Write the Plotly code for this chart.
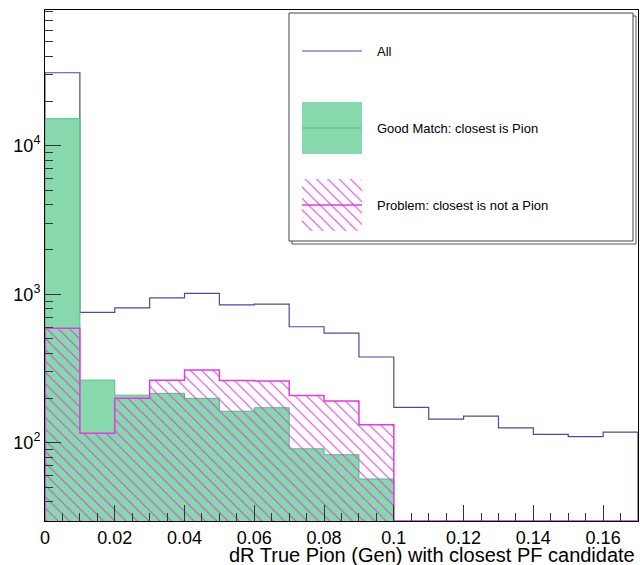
import numpy as np
import plotly.graph_objects as go

# Histogram binning: 17 bins of width 0.01 over dR in [0, 0.17]
bin_edges = [round(0.01 * i, 2) for i in range(18)]

# Bin contents
all_counts = [31000, 755, 810, 946, 1014, 849, 859, 604, 548, 378,
              173, 144, 151, 126, 114, 110, 118]
good_counts = [15200, 264, 209, 215, 199, 163, 172, 91, 83, 57,
               0, 0, 0, 0, 0, 0, 0]
problem_counts = [589, 116, 199, 264, 309, 262, 260, 208, 191, 132,
                  0, 0, 0, 0, 0, 0, 0]

x_ticks = [0, 0.02, 0.04, 0.06, 0.08, 0.1, 0.12, 0.14, 0.16]
x_ticktext = ["0", "0.02", "0.04", "0.06", "0.08", "0.1", "0.12", "0.14", "0.16"]
y_ticks = [100, 1000, 10000]
y_ticktext = ["10<sup>2</sup>", "10<sup>3</sup>", "10<sup>4</sup>"]
y_minor_ticks = [m * 10 ** d for d in (1, 2, 3, 4) for m in range(2, 10)]

legend_labels = ["All", "Good Match: closest is Pion", "Problem: closest is not a Pion"]
x_title = "dR True Pion (Gen) with closest PF candidate"

# Log-axis range (decades)
Y_LOG_RANGE = [1.473, 4.914]
Y_FLOOR = 10 ** Y_LOG_RANGE[0]

BLUE = "#4b4b9e"
GREEN_FILL = "#88d8ad"
GREEN_LINE = "#4cbf80"
MAGENTA = "#e03ce0"
FONT = "Liberation Sans, Arial, Helvetica, sans-serif"

# Figure geometry (pixels)
W, H = 640, 565
ML, MR, MT, MB = 45, 2, 10, 44
PW, PH = W - ML - MR, H - MT - MB


def px(x):
    return (x - ML) / PW


def py(y):
    return (H - MB - y) / PH


def step_path(counts):
    """Closed step outline of a histogram, zero bins resting on the axis floor."""
    vals = np.where(np.asarray(counts, float) > 0, counts, Y_FLOOR)
    xs = [bin_edges[0]] + list(bin_edges) + [bin_edges[-1]]
    ys = [Y_FLOOR] + list(vals) + [vals[-1], Y_FLOOR]
    return xs, ys


HATCH = dict(shape="\\", fgcolor=MAGENTA, bgcolor="rgba(0,0,0,0)",
             size=8, solidity=0.13, fillmode="replace")

fig = go.Figure()

# "All" distribution: outline only
xa, ya = step_path(all_counts)
fig.add_trace(go.Scatter(x=xa, y=ya, mode="lines", line=dict(color=BLUE, width=1.2, shape="hv"),
                         showlegend=False, hoverinfo="skip"))

# Good match: filled green histogram
xg, yg = step_path(good_counts)
fig.add_trace(go.Scatter(x=xg, y=yg, mode="lines", fill="toself", fillcolor=GREEN_FILL,
                         line=dict(color=GREEN_LINE, width=1, shape="hv"),
                         showlegend=False, hoverinfo="skip"))

# Problem: hatched magenta histogram
xp, yp = step_path(problem_counts)
fig.add_trace(go.Scatter(x=xp, y=yp, mode="lines", fill="toself", fillcolor="rgba(0,0,0,0)",
                         fillpattern=HATCH,
                         line=dict(color=MAGENTA, width=1.5, shape="hv"),
                         showlegend=False, hoverinfo="skip"))

# Legend swatches drawn on a small auxiliary axis (units = pixels inside the key)
SW_X0, SW_X1 = 302, 362
KEY_TOP, KEY_BOT = 40, 232
key_rows = {"All": 51, "good": 128, "prob": 205}
swatch_half = 26


def ky(y):
    return KEY_BOT - y


for name, fill_kw, line_col, lw in [
    ("good", dict(fillcolor=GREEN_FILL), GREEN_LINE, 1.2),
    ("prob", dict(fillcolor="rgba(0,0,0,0)", fillpattern=HATCH), MAGENTA, 1.5),
]:
    c = key_rows[name]
    y0, y1 = ky(c + swatch_half), ky(c - swatch_half)
    fig.add_trace(go.Scatter(x=[0, 1, 1, 0, 0], y=[y0, y0, y1, y1, y0], mode="lines",
                             fill="toself", line=dict(width=0), xaxis="x2", yaxis="y2",
                             showlegend=False, hoverinfo="skip", **fill_kw))
    fig.add_trace(go.Scatter(x=[0, 1], y=[ky(c), ky(c)], mode="lines",
                             line=dict(color=line_col, width=lw), xaxis="x2", yaxis="y2",
                             showlegend=False, hoverinfo="skip"))
fig.add_trace(go.Scatter(x=[0, 1], y=[ky(key_rows["All"]), ky(key_rows["All"])], mode="lines",
                         line=dict(color=BLUE, width=1.2), xaxis="x2", yaxis="y2",
                         showlegend=False, hoverinfo="skip"))

# Key box with a drop shadow
shapes = [
    dict(type="rect", xref="paper", yref="paper", x0=px(292), x1=px(636), y0=py(244), y1=py(16),
         line=dict(color="#555555", width=1), fillcolor="rgba(0,0,0,0)", layer="below"),
    dict(type="rect", xref="paper", yref="paper", x0=px(289), x1=px(633), y0=py(241), y1=py(13),
         line=dict(color="#444444", width=1), fillcolor="white", layer="below"),
]

annotations = [
    dict(text=label, x=px(375), y=py(key_rows[k]), xref="paper", yref="paper",
         xanchor="left", yanchor="middle", showarrow=False,
         font=dict(family=FONT, size=13, color="black"))
    for label, k in zip(legend_labels, ["All", "good", "prob"])
]
annotations.append(dict(text=x_title, x=px(637), y=py(555), xref="paper", yref="paper",
                        xanchor="right", yanchor="middle", showarrow=False,
                        font=dict(family=FONT, size=20, color="black")))

fig.update_layout(
    width=W, height=H,
    margin=dict(l=ML, r=MR, t=MT, b=MB, pad=0),
    paper_bgcolor="white", plot_bgcolor="rgba(0,0,0,0)",
    font=dict(family=FONT, size=18, color="black"),
    showlegend=False,
    shapes=shapes,
    annotations=annotations,
    xaxis=dict(range=[0, 0.17], tickvals=x_ticks, ticktext=x_ticktext,
               ticks="inside", ticklen=16, tickwidth=1, tickcolor="#333333",
               minor=dict(ticks="inside", ticklen=8, dtick=0.005, tick0=0, tickcolor="#333333", showgrid=False),
               showline=True, linecolor="black", linewidth=1, mirror=True,
               showgrid=False, zeroline=False, tickfont=dict(size=18, family=FONT)),
    yaxis=dict(type="log", range=Y_LOG_RANGE, tickvals=y_ticks, ticktext=y_ticktext,
               ticks="inside", ticklen=16, tickwidth=1, tickcolor="#333333",
               minor=dict(ticks="inside", ticklen=8, tickmode="array", tickvals=y_minor_ticks,
                          tickcolor="#333333", showgrid=False),
               showline=True, linecolor="black", linewidth=1, mirror=True,
               showgrid=False, zeroline=False, tickfont=dict(size=18, family=FONT)),
    xaxis2=dict(domain=[px(SW_X0), px(SW_X1)], range=[0, 1], anchor="y2",
                visible=False, fixedrange=True),
    yaxis2=dict(domain=[py(KEY_BOT), py(KEY_TOP)], range=[0, KEY_BOT - KEY_TOP], anchor="x2",
                visible=False, fixedrange=True),
)

fig.write_html("out.html")
